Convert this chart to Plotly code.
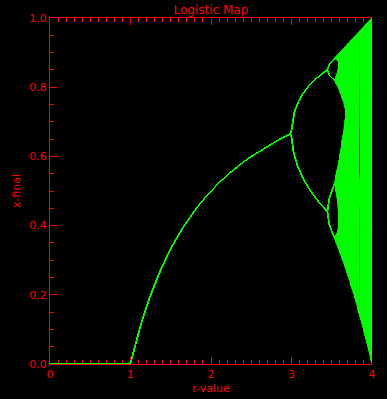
import numpy as np
import plotly.graph_objects as go

# Parameters of the logistic map x -> r*x*(1-x) that the chart shows
R_MIN, R_MAX, N_R = 0.0, 4.0, 2001
X0 = 0.25
N_TRANSIENT = 400
N_KEEP = 40

x_ticks = [0, 1, 2, 3, 4]
x_ticklabels = ["0", "1", "2", "3", "4"]
y_ticks = [0.0, 0.2, 0.4, 0.6, 0.8, 1.0]
y_ticklabels = ["0.0", "0.2", "0.4", "0.6", "0.8", "1.0"]

r_values = np.linspace(R_MIN, R_MAX, N_R)
x = np.full_like(r_values, X0)
for _ in range(N_TRANSIENT):
    x = r_values * x * (1 - x)

xs, ys = [], []
for _ in range(N_KEEP):
    x = r_values * x * (1 - x)
    xs.extend(np.round(r_values, 4).tolist() + [None])
    ys.extend(np.round(x, 4).tolist() + [None])

RED = "#ff0000"
GREEN = "#00ff00"
FONT = "DejaVu Sans"

fig = go.Figure()
fig.add_trace(go.Scatter(x=xs, y=ys, mode="lines",
                         line=dict(color=GREEN, width=1),
                         hoverinfo="skip", showlegend=False))

axis_common = dict(
    showgrid=False, zeroline=False, showline=True, linecolor=RED, linewidth=1,
    ticks="inside", ticklen=7, tickcolor=RED, tickwidth=1,
    tickfont=dict(color=RED, size=11, family=FONT), layer="below traces",
    automargin=False,
)

fig.update_layout(
    width=387, height=399,
    paper_bgcolor="black", plot_bgcolor="black",
    margin=dict(l=50, r=15, t=18, b=35),
    title=dict(text="Logistic Map", x=0.545, xanchor="center", y=0.985, yanchor="top",
               font=dict(color=RED, size=12, family=FONT)),
    xaxis=dict(range=[0, 4], tickvals=x_ticks, ticktext=x_ticklabels, mirror="ticks",
               minor=dict(dtick=0.1, ticklen=4, tickcolor=RED, ticks="inside", showgrid=False),
               title=dict(text="r-value", font=dict(color=RED, size=11, family=FONT), standoff=4),
               **axis_common),
    yaxis=dict(range=[0, 1], tickvals=y_ticks, ticktext=y_ticklabels, mirror=False,
               minor=dict(dtick=0.05, ticklen=4, tickcolor=RED, ticks="inside", showgrid=False),
               title=dict(text="x-final", font=dict(color=RED, size=11, family=FONT), standoff=6),
               **axis_common),
)

fig.write_html("out.html")
